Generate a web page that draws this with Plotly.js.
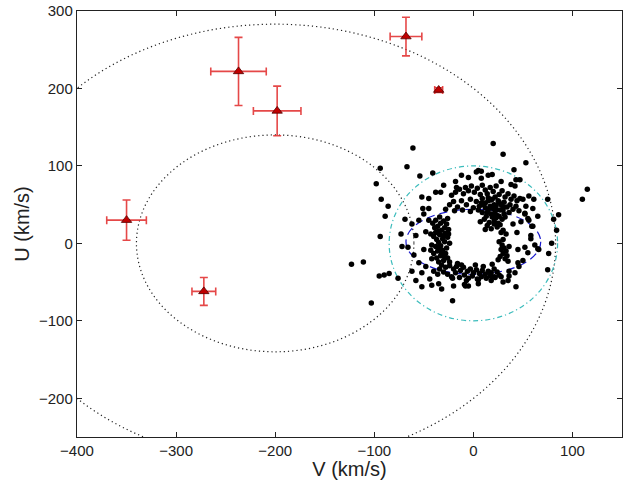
<!DOCTYPE html>
<html>
<head>
<meta charset="utf-8">
<script src="https://cdn.plot.ly/plotly-3.0.1.min.js"></script>
<style>
  html, body { margin: 0; padding: 0; background: #fff; }
  #uvPlot { width: 623px; height: 480px; }
</style>
</head>
<body>
<div id="uvPlot"></div>
<script>
// field stars (V, U) in km/s
var starV = [
  // upper arc
  -22,-18,-14,-10,-8,-5,-2,1,4,7,9,12,14,17,20,23,26,29,32,35,38,41,44,47,-24,-20,-16,-12,-7,-3,0,3,6,9,12,15,18,22,25,28,31,34,37,40,43,46,-28,-19,-11,-3,5,30,36,
  // dense blob
  8,12,15,17,19,21,23,26,30,9,13,15,18,20,22,24,27,31,11,16,19,21,23,25,29,14,18,21,24,27,12,30,32,7,20,17,14,23,26,10,
  // left arc
  -30,-27,-33,-36,-29,-25,-32,-38,-34,-28,-26,-31,-37,-40,-35,-29,-24,-33,-38,-42,-27,-31,-36,-40,-28,-33,-37,-42,-26,-30,-35,-24,-39,-41,-43,-32,-35,-30,-34,-25,-29,-43,-38,-34,-26,
  // bottom arc
  -32,-28,-24,-20,-17,-13,-10,-6,-3,0,3,6,9,12,15,18,21,24,-30,-26,-22,-18,-14,-9,-5,-1,4,8,13,17,22,26,-34,-16,-12,2,10,19,-36,-7,
  // right inner arc
  26,29,31,33,28,30,34,27,32,35,25,36,30,33,28,
  // scatter inside the cyan ring
  -45,-50,-55,-62,-58,-66,-60,-55,-48,-52,-44,-40,-62,-48,-50,-45,52,56,60,58,62,55,50,46,42,36,30,48,53,60,65,66,52,44,45,40,-5,-18,-30,8,15,28,38,-38,-45,-8,5,-20,18,-12,3,-35,-58,
  // outliers
  -61,20,30,53,-67,-94,-41,-54,-98,-93,-86,-89,75,110,115,86,81,84,79,76,75,65,-94,-73,-72,-69,-123,-111,-95,-90,-85,-76,-103,-21,-32,-52,-42,35,43,-33,-52,-51,-17,5,8,19,41,43,47,42,56,61,50,52,55,59,58,45,36,28,21,5,-5,-9,-21
];
var starU = [
  // upper arc
  62,66,70,64,72,68,74,66,71,63,75,69,64,72,67,74,63,68,60,64,57,61,55,58,50,54,47,55,50,57,46,54,48,58,52,59,56,60,55,50,53,47,50,44,48,42,44,42,43,41,43,43,40,
  // dense blob
  52,46,55,48,57,50,44,53,47,40,35,43,38,45,41,36,43,38,31,27,34,29,33,26,31,23,19,25,21,24,18,17,34,28,37,46,40,49,35,50,
  // left arc
  29,25,26,22,20,18,17,14,11,13,8,6,5,9,1,2,0,-3,-4,-2,-6,-9,-10,-13,-13,-16,-19,-20,-19,-22,-24,-24,20,26,12,-12,16,10,-7,12,-17,-9,30,34,32,
  // bottom arc
  -28,-31,-29,-33,-30,-35,-31,-36,-33,-38,-34,-39,-35,-40,-36,-38,-33,-37,-37,-40,-43,-38,-44,-41,-45,-42,-46,-43,-45,-42,-44,-41,-33,-26,-28,-28,-30,-27,-40,-48,
  // right inner arc
  2,-2,-6,-10,-8,-13,-16,-17,-20,-23,-21,-4,5,12,14,
  // scatter inside the cyan ring
  45,38,30,25,10,-5,-15,-25,-30,-38,-46,-36,-36,15,-8,30,38,30,22,10,-2,-12,-22,-30,-38,-42,-50,28,48,45,35,-8,-5,14,-8,25,85,80,75,84,88,80,76,66,58,-55,-52,-55,-48,88,92,-52,-48,
  // outliers
  123,129,115,104,99,97,91,87,77,57,48,35,57,57,70,37,31,17,0,-13,-34,-7,9,12,-4,31,-27,-24,-42,-41,-39,-45,-77,-74,-59,-56,-54,-48,-56,66,60,45,72,94,93,89,95,82,82,74,61,57,57,39,32,22,6,-25,-36,-43,-43,-47,-55,-53,-45
];

// red triangles with error bars
var grpV = [-350, -272, -237, -198, -68, -35];
var grpU = [30, -62, 222, 171, 267, 198];
var grpVerr = [20, 12, 28, 24, 16, 4];
var grpUerr = [26, 18, 44, 32, 25, 3];

// outline curves: centre and semi-axes in (V, U)
var ringCenV = [-200, -200, 0, 0];
var ringCenU = [0, 0, 0, 2];
var ringRadV = [283, 140, 85, 68];
var ringRadU = [283, 140, 100, 42];
var ringColor = ['#222', '#222', '#3cbcbc', '#1a1acc'];
var ringDash = ['1.2px,3px', '1.2px,3px', '5px,3px,1.2px,3px', '8px,5px'];

var stars = {
  x: starV, y: starU,
  mode: 'markers',
  type: 'scatter',
  marker: {color: '#000', size: 5.5},
  hoverinfo: 'x+y'
};
var groups = {
  x: grpV, y: grpU,
  mode: 'markers',
  type: 'scatter',
  marker: {symbol: 'triangle-up', color: '#c00000', size: 9,
           line: {color: '#500000', width: 0.8}},
  error_x: {type: 'data', array: grpVerr, color: 'rgba(225,40,40,0.85)', thickness: 1.6, width: 4},
  error_y: {type: 'data', array: grpUerr, color: 'rgba(225,40,40,0.85)', thickness: 1.6, width: 4}
};

var shapes = [];
for (var i = 0; i < ringCenV.length; i++) {
  shapes.push({
    type: 'circle', xref: 'x', yref: 'y', layer: 'below',
    x0: ringCenV[i] - ringRadV[i], x1: ringCenV[i] + ringRadV[i],
    y0: ringCenU[i] - ringRadU[i], y1: ringCenU[i] + ringRadU[i],
    line: {color: ringColor[i], width: 1.2, dash: ringDash[i]}
  });
}

var fontFam = 'Liberation Sans, Arial, sans-serif';
var axisStyle = {
  showgrid: false, zeroline: false,
  showline: true, linecolor: '#222', linewidth: 1.2, mirror: 'allticks',
  ticks: 'inside', ticklen: 5, tickcolor: '#222',
  tickfont: {family: fontFam, size: 15, color: '#222'},
  dtick: 100
};

var layout = {
  width: 623, height: 480,
  margin: {l: 77, r: 1, t: 11, b: 43},
  paper_bgcolor: '#fff', plot_bgcolor: '#fff',
  showlegend: false,
  shapes: shapes,
  xaxis: Object.assign({}, axisStyle, {
    range: [-400, 150], tick0: -400,
    title: {text: 'V (km/s)', font: {family: fontFam, size: 20, color: '#222'}, standoff: 2}
  }),
  yaxis: Object.assign({}, axisStyle, {
    range: [-250, 300], tick0: -200,
    title: {text: 'U (km/s)', font: {family: fontFam, size: 20, color: '#222'}, standoff: 4}
  })
};

Plotly.newPlot('uvPlot', [stars, groups], layout, {displayModeBar: false, staticPlot: true});
</script>
</body>
</html>
